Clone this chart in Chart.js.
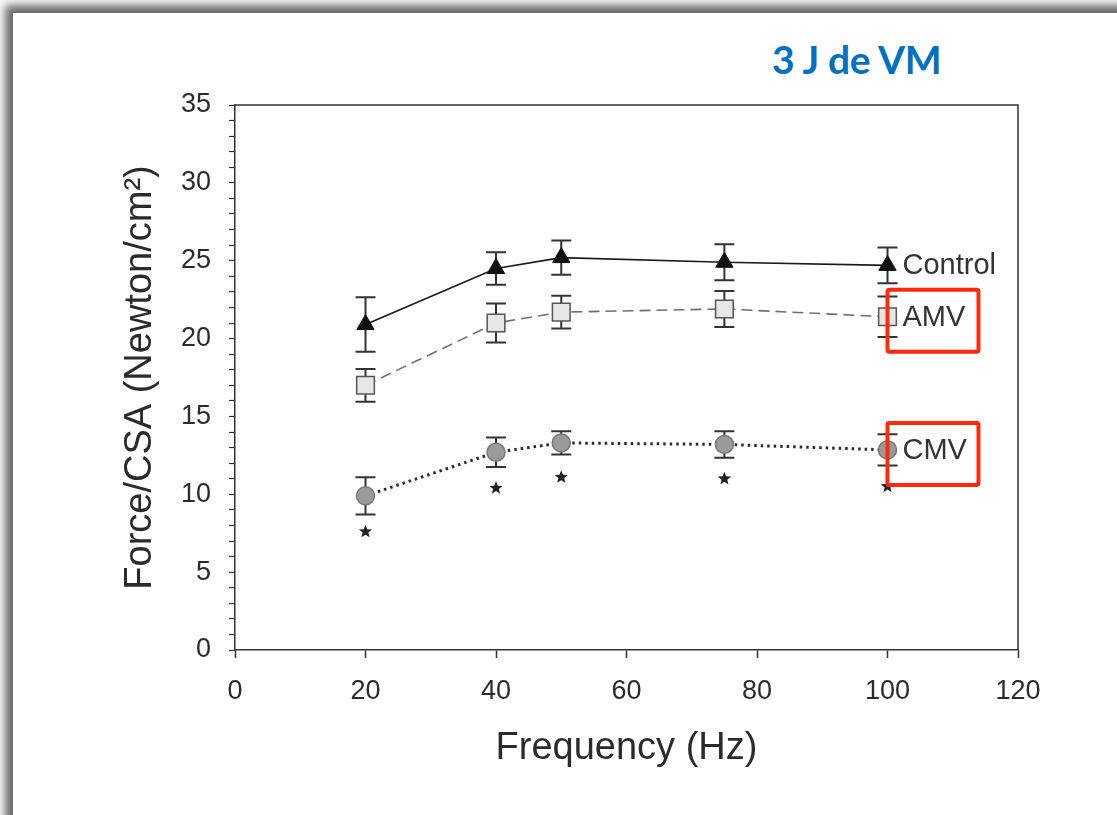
<!DOCTYPE html>
<html>
<head>
<meta charset="utf-8">
<script src="https://cdn.jsdelivr.net/npm/chart.js@4/dist/chart.umd.min.js"></script>
<style>
    html, body { margin: 0; padding: 0; width: 1117px; height: 815px; overflow: hidden; background: #fff; }
    .card {
        position: absolute; left: 13px; top: 13px; width: 1140px; height: 840px;
        background: #fff; box-shadow: -3px -3px 9px 5px rgba(0, 0, 0, 0.6);
    }
    .titre {
        position: absolute; left: 772px; top: 36px;
        font-family: Lato, "Open Sans", sans-serif; font-weight: bold; font-size: 39px;
        color: #0070c0; letter-spacing: -0.3px;
    }
    .wrap { position: absolute; left: 0; top: 0; width: 1117px; height: 815px; }
</style>
</head>
<body>
<div class="card"></div>
<div class="titre">3 J de VM</div>
<div class="wrap"><canvas id="forceChart"></canvas></div>
<script>
// données
const frequencies = [20, 40, 50, 75, 100];
const controlMean = [20.9, 24.5, 25.2, 24.9, 24.7];
const controlErr = [1.75, 1.05, 1.1, 1.15, 1.15];
const amvMean = [17.0, 21.0, 21.7, 21.9, 21.4];
const amvErr = [1.05, 1.25, 1.05, 1.15, 1.3];
const cmvMean = [9.9, 12.7, 13.3, 13.2, 12.85];
const cmvErr = [1.2, 0.95, 0.75, 0.85, 1.0];
const starValues = [7.6, 10.4, 11.1, 11.0, 10.5]; // astérisques sous CMV
const xTicks = [0, 20, 40, 60, 80, 100, 120];
const yTicks = [0, 5, 10, 15, 20, 25, 30, 35];
const seriesNames = ['Control', 'AMV', 'CMV'];

const FONT = '"Liberation Sans", Arial, sans-serif';
const INK = '#2b2b2b';

function toPoints(means) {
    return frequencies.map((f, i) => ({ x: f, y: means[i] }));
}

// barres d'erreur, cadre, astérisques, étiquettes
const extrasPlugin = {
    id: 'extras',
    beforeDatasetsDraw(chart) {
        const ctx = chart.ctx;
        const xs = chart.scales.x, ys = chart.scales.y;
        const errs = [controlErr, amvErr, cmvErr];
        const means = [controlMean, amvMean, cmvMean];
        ctx.save();
        ctx.strokeStyle = '#333';
        ctx.lineWidth = 2;
        for (let s = 0; s < 3; s++) {
            frequencies.forEach((f, i) => {
                const px = xs.getPixelForValue(f);
                const top = ys.getPixelForValue(means[s][i] + errs[s][i]);
                const bot = ys.getPixelForValue(means[s][i] - errs[s][i]);
                ctx.beginPath();
                ctx.moveTo(px, top); ctx.lineTo(px, bot);
                ctx.moveTo(px - 10, top); ctx.lineTo(px + 10, top);
                ctx.moveTo(px - 10, bot); ctx.lineTo(px + 10, bot);
                ctx.stroke();
            });
        }
        ctx.restore();
    },
    afterDatasetsDraw(chart) {
        const ctx = chart.ctx;
        const xs = chart.scales.x, ys = chart.scales.y;
        const a = chart.chartArea;
        ctx.save();
        // cadre haut et droit
        ctx.strokeStyle = '#333';
        ctx.lineWidth = 1.5;
        ctx.beginPath();
        ctx.moveTo(a.left, a.top); ctx.lineTo(a.right, a.top); ctx.lineTo(a.right, a.bottom);
        ctx.stroke();

        // astérisques
        ctx.fillStyle = '#222';
        frequencies.forEach((f, i) => {
            const cx = xs.getPixelForValue(f), cy = ys.getPixelForValue(starValues[i]);
            ctx.beginPath();
            for (let k = 0; k < 10; k++) {
                const r = k % 2 === 0 ? 7 : 3;
                const ang = -Math.PI / 2 + k * Math.PI / 5;
                ctx.lineTo(cx + r * Math.cos(ang), cy + r * Math.sin(ang));
            }
            ctx.closePath();
            ctx.fill();
        });

        // étiquettes des séries
        const lastX = xs.getPixelForValue(frequencies[frequencies.length - 1]);
        const lastY = [controlMean, amvMean, cmvMean].map(m => ys.getPixelForValue(m[m.length - 1]));
        ctx.font = '29px ' + FONT;
        ctx.fillStyle = '#333';
        ctx.textBaseline = 'middle';
        ctx.textAlign = 'left';
        seriesNames.forEach((name, s) => {
            ctx.fillText(name, lastX + 15, lastY[s] + 1);
        });

        // encadrés rouges AMV / CMV
        ctx.strokeStyle = '#ff2a0c';
        ctx.lineWidth = 4;
        [lastY[1], lastY[2]].forEach(cy => {
            ctx.beginPath();
            ctx.roundRect(lastX, cy - 27, 91, 62, 2);
            ctx.stroke();
        });
        ctx.restore();
    }
};

const chart = new Chart(document.getElementById('forceChart'), {
    type: 'line',
    data: {
        datasets: [
            {
                label: seriesNames[0],
                data: toPoints(controlMean),
                borderColor: '#1a1a1a',
                borderWidth: 1.6,
                pointStyle: 'triangle',
                pointRadius: 10,
                pointBackgroundColor: '#111',
                pointBorderColor: '#111',
                pointBorderWidth: 1
            },
            {
                label: seriesNames[1],
                data: toPoints(amvMean),
                borderColor: '#6f6f6f',
                borderWidth: 1.6,
                borderDash: [11, 6],
                pointStyle: 'rect',
                pointRadius: 12.5,
                pointBackgroundColor: '#e6e6e6',
                pointBorderColor: '#555',
                pointBorderWidth: 1.5
            },
            {
                label: seriesNames[2],
                data: toPoints(cmvMean),
                borderColor: '#2a2a2a',
                borderWidth: 3,
                borderDash: [2.5, 4],
                pointStyle: 'circle',
                pointRadius: 9,
                pointBackgroundColor: '#9a9a9a',
                pointBorderColor: '#777',
                pointBorderWidth: 1.5
            }
        ]
    },
    options: {
        responsive: true,
        maintainAspectRatio: false,
        animation: false,
        layout: { padding: { left: 118, top: 105, right: 99, bottom: 40 } },
        plugins: {
            legend: { display: false },
            tooltip: { enabled: false }
        },
        scales: {
            x: {
                type: 'linear',
                min: 0, max: 120,
                afterBuildTicks: axis => { axis.ticks = xTicks.map(v => ({ value: v })); },
                afterFit: axis => { axis.height = 125; },
                grid: { drawOnChartArea: false, tickLength: 8, color: '#333', tickWidth: 1.5 },
                border: { color: '#333', width: 1.5 },
                ticks: { font: { family: FONT, size: 27 }, color: INK, padding: 17 },
                title: {
                    display: true, text: 'Frequency (Hz)',
                    font: { family: FONT, size: 38 }, color: INK, padding: { top: 12 }
                }
            },
            y: {
                min: 0, max: 35,
                afterFit: axis => { axis.width = 117; },
                ticks: {
                    stepSize: 1,
                    autoSkip: false,
                    font: { family: FONT, size: 27 }, color: INK, padding: 18,
                    callback: v => (yTicks.includes(v) ? v : '')
                },
                grid: { drawOnChartArea: false, tickLength: 6, color: '#333', tickWidth: 1.2 },
                border: { color: '#333', width: 1.5 },
                title: {
                    display: true, text: 'Force/CSA (Newton/cm²)',
                    font: { family: FONT, size: 38 }, color: INK, padding: { top: 0, bottom: 6 }
                }
            }
        }
    },
    plugins: [extrasPlugin]
});
</script>
</body>
</html>
